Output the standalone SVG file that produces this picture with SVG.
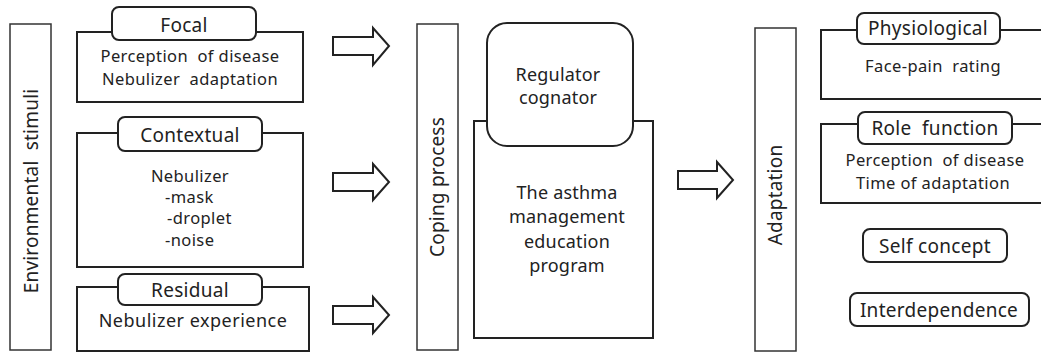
<svg xmlns="http://www.w3.org/2000/svg" width="1041" height="354" viewBox="0 0 1041 354">
<style>
.box{fill:#fff;stroke:#222;stroke-width:2}
.bar{fill:#fff;stroke:#333;stroke-width:1.5}
.tab{fill:#fff;stroke:#222;stroke-width:2}
.arr{fill:#fff;stroke:#222;stroke-width:2;stroke-linejoin:miter}
text{font-family:"Noto Sans","Open Sans","DejaVu Sans",sans-serif;font-size:16.5px;letter-spacing:0.4px;fill:#222;text-anchor:middle}
.t{font-size:19px;letter-spacing:0.3px}
.b{font-size:18px;letter-spacing:0.2px}
.v{font-size:19px;letter-spacing:0.2px}
.l{font-size:18px;letter-spacing:0.5px}
.s{text-anchor:start}
</style>
<rect width="1041" height="354" fill="#fff"/>
<g id="environmental-stimuli">
<rect class="bar" x="10" y="24" width="41" height="326"/>
<text class="v" transform="translate(38,191) rotate(-90)">Environmental&#160; stimuli</text>
</g>
<g id="focal">
<rect class="box" x="77" y="32" width="226" height="70"/>
<rect class="tab" x="112" y="7" width="144" height="33" rx="7"/>
<text class="t" x="184" y="32">Focal</text>
<text x="190" y="62">Perception&#160; of disease</text>
<text x="190" y="85">Nebulizer&#160; adaptation</text>
</g>
<g id="contextual">
<rect class="box" x="77" y="133" width="226" height="134"/>
<rect class="tab" x="118" y="117" width="144" height="34" rx="7"/>
<text class="t" x="190" y="142">Contextual</text>
<text x="190" y="182">Nebulizer</text>
<text class="s" x="165" y="203">-mask</text>
<text class="s" x="167" y="224">-droplet</text>
<text class="s" x="165" y="246">-noise</text>
</g>
<g id="residual">
<rect class="box" x="77" y="287" width="232" height="64"/>
<rect class="tab" x="118" y="274" width="144" height="31" rx="7"/>
<text class="t" x="190" y="297">Residual</text>
<text class="l" x="193" y="327">Nebulizer experience</text>
</g>
<g id="coping-process">
<rect class="bar" x="417" y="24" width="41" height="326"/>
<text class="v" transform="translate(444,187) rotate(-90)">Coping process</text>
</g>
<g id="education-program">
<rect class="box" x="474" y="121" width="179" height="217"/>
<text class="b" x="567" y="199">The asthma</text>
<text class="b" x="567" y="223">management</text>
<text class="b" x="567" y="248">education</text>
<text class="b" x="567" y="272">program</text>
</g>
<g id="regulator-cognator">
<rect class="tab" x="487" y="23" width="146" height="123" rx="20"/>
<text class="b" x="558" y="81">Regulator</text>
<text class="b" x="558" y="104">cognator</text>
</g>
<g id="adaptation">
<rect class="bar" x="755" y="28" width="41" height="323"/>
<text class="v" transform="translate(782,195) rotate(-90)">Adaptation</text>
</g>
<g id="physiological">
<rect class="box" x="821" y="30" width="225" height="69"/>
<rect class="tab" x="857" y="13" width="143" height="31" rx="7"/>
<text class="t" x="928" y="35">Physiological</text>
<text x="933" y="72">Face-pain&#160; rating</text>
</g>
<g id="role-function">
<rect class="box" x="821" y="124" width="225" height="79"/>
<rect class="tab" x="858" y="112" width="154" height="32" rx="7"/>
<text class="t" x="935" y="135">Role&#160; function</text>
<text x="935" y="166">Perception&#160; of disease</text>
<text x="933" y="189">Time of adaptation</text>
</g>
<g id="self-concept">
<rect class="tab" x="863" y="229" width="144" height="33" rx="7"/>
<text class="t" x="935" y="253">Self concept</text>
</g>
<g id="interdependence">
<rect class="tab" x="850" y="293" width="179" height="33" rx="7"/>
<text class="t" x="939" y="317">Interdependence</text>
</g>
<g id="connectors">
<path class="arr" d="M333,37 H373 V28 L389,46 L373,65 V55 H333 Z"/>
<path class="arr" d="M333,173 H373 V164 L389,182 L373,200 V191 H333 Z"/>
<path class="arr" d="M333,306 H373 V297 L389,315 L373,333 V324 H333 Z"/>
<path class="arr" d="M678,171 H717 V162 L733,180 L717,198 V189 H678 Z"/>
</g>
</svg>
